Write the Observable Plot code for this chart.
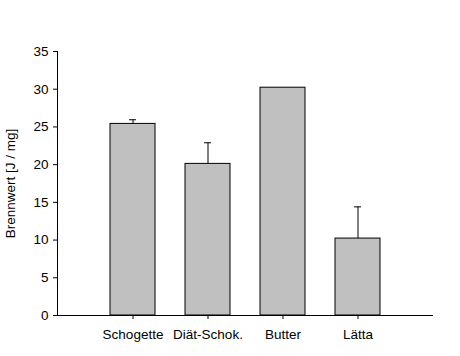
<!DOCTYPE html>
<html><head><meta charset="utf-8">
<script src="https://cdn.jsdelivr.net/npm/d3@7"></script>
<script src="https://cdn.jsdelivr.net/npm/@observablehq/plot@0.6"></script>
<style>body{margin:0;background:#fff}</style>
</head><body><div id="chart"></div>
<script>
const products = ["Schogette", "Diät-Schok.", "Butter", "Lätta"];
const brennwert = [25.4, 20.1, 30.2, 10.2];
const fehler = [0.55, 2.8, 0, 4.2];
const yTicks = [0, 5, 10, 15, 20, 25, 30, 35];
const yLabel = "Brennwert [J / mg]";

const data = products.map((p, i) => ({p, v: brennwert[i], e: fehler[i]}));
const errData = data.filter(d => d.e > 0);

const chart = Plot.plot({
  width: 460, height: 356,
  marginLeft: 57, marginRight: 27, marginTop: 51, marginBottom: 41,
  style: {fontFamily: "'Liberation Sans', Arial, sans-serif", fontSize: "13.5px", color: "black", background: "white"},
  x: {domain: products, paddingInner: 0.4, paddingOuter: 0.7, label: null},
  y: {domain: [0, 35], label: null},
  marks: [
    Plot.barY(data, {x: "p", y: "v", fill: "#c0c0c0", stroke: "black", strokeWidth: 1}),
    Plot.ruleX(errData, {x: "p", y1: "v", y2: d => d.v + d.e, stroke: "black"}),
    Plot.tickY(errData, {x: "p", y: d => d.v + d.e, stroke: "black", insetLeft: 19, insetRight: 19}),
    Plot.ruleY([0], {stroke: "black"}),
    Plot.frame({anchor: "left", stroke: "black"}),
    Plot.axisX({tickSize: 4, tickPadding: 10, label: null}),
    Plot.axisY({ticks: yTicks, tickSize: 4, tickPadding: 5, label: yLabel, labelAnchor: "center", labelArrow: "none", labelOffset: 52})
  ]
});
document.getElementById("chart").append(chart);
</script>
</body></html>
